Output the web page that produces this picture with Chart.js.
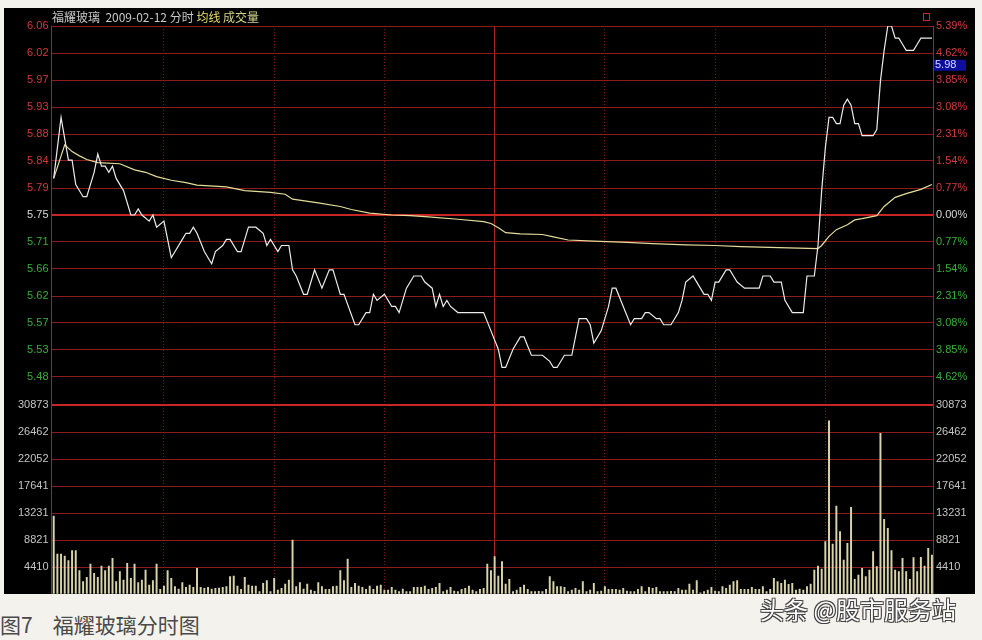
<!DOCTYPE html>
<html>
<head>
<meta charset="utf-8">
<title>福耀玻璃分时图</title>
<script src="https://cdn.jsdelivr.net/npm/chart.js@4.4.0/dist/chart.umd.min.js"></script>
<style>
  body { margin:0; width:982px; height:640px; background:#f4f2ec; position:relative; overflow:hidden;
         font-family:"Noto Sans CJK SC", "Noto Sans", sans-serif; }
  #board { position:absolute; left:4px; top:8px; width:971px; height:586px; background:#000; }
  #board canvas { position:absolute; left:0; }
  #priceChart { top:0; }
  #volChart { top:384px; }
  .title { position:absolute; left:48px; top:2px; font-size:12px; line-height:14px; color:#c8c8c8; white-space:pre; }
  .title .avg { color:#e6dc64; }
  .title .vol { color:#d2d28c; }
  .box { position:absolute; left:919px; top:5px; width:5px; height:6px; border:1px solid #c82828; }
  .caption { position:absolute; left:0; top:611px; font-size:21px; line-height:26px; color:#4a4a4a; white-space:pre; }
  .caption span { margin-left:20px; }
  .mark { position:absolute; left:760px; top:594px; font-size:24px; line-height:30px; color:#fff; white-space:pre;
          text-shadow:1px 1px 0 #444, -1px -1px 0 #444, 1px -1px 0 #444, -1px 1px 0 #444; }
</style>
</head>
<body>
<div id="board">
  <canvas id="priceChart" width="971" height="400"></canvas>
  <canvas id="volChart" width="971" height="202"></canvas>
  <div class="title">福耀玻璃  2009-02-12 分时 <span class="avg">均线</span> <span class="vol">成交量</span></div>
  <div class="box"></div>
</div>
<div class="caption">图7<span>福耀玻璃分时图</span></div>
<div class="mark">头条 @股市服务站</div>

<script>
"use strict"

// previous close and the 0.77% grid step
const preClose = 5.75;
const pctStep = 0.0077;
const markerPrice = 5.98;

const priceLabels = ['6.06','6.02','5.97','5.93','5.88','5.84','5.79','5.75','5.71','5.66','5.62','5.57','5.53','5.48'];
const pctLabels = ['5.39%','4.62%','3.85%','3.08%','2.31%','1.54%','0.77%','0.00%','0.77%','1.54%','2.31%','3.08%','3.85%','4.62%'];
const volLabels = ['30873','26462','22052','17641','13231','8821','4410'];
const volMax = 30873;
const gridMinutes = [30, 60, 90, 120, 150, 180, 210];

// price line, minute index from 9:30
const priceMinutes = [0,2,4,5,6,8,9,11,12,13,14,15,16,17,19,21,22,23,24,26,27,28,30,32,35,36,37,38,39,41,42,43,44,46,47,48,50,51,52,53,55,57,58,59,61,62,64,65,66,68,69,71,73,75,76,77,78,79,82,83,85,86,87,88,90,92,93,94,95,96,98,100,101,103,104,105,106,107,108,110,117,119,121,122,123,125,127,128,130,133,135,136,137,139,141,142,143,145,146,147,149,151,152,153,155,157,158,160,161,162,164,165,166,168,170,171,172,174,175,177,178,179,180,181,183,184,185,186,188,192,193,195,196,198,199,201,204,205,207,208,209,210,211,212,213,214,215,216,217,218,219,220,223,224,225,226,227,228,229,230,231,232,234,235,236,239];
const prices = [5.81,5.91,5.84,5.84,5.80,5.78,5.78,5.82,5.85,5.83,5.83,5.82,5.83,5.81,5.79,5.75,5.75,5.76,5.75,5.74,5.75,5.73,5.74,5.68,5.71,5.72,5.72,5.73,5.72,5.69,5.68,5.67,5.69,5.70,5.71,5.71,5.69,5.69,5.71,5.73,5.73,5.72,5.70,5.71,5.69,5.70,5.70,5.66,5.65,5.62,5.62,5.66,5.63,5.66,5.66,5.64,5.62,5.62,5.57,5.57,5.59,5.59,5.62,5.61,5.62,5.60,5.60,5.59,5.61,5.63,5.65,5.65,5.64,5.63,5.60,5.62,5.60,5.61,5.60,5.59,5.59,5.56,5.53,5.50,5.50,5.53,5.55,5.55,5.52,5.52,5.51,5.50,5.50,5.52,5.52,5.55,5.58,5.58,5.57,5.54,5.56,5.60,5.63,5.63,5.60,5.57,5.58,5.58,5.59,5.59,5.58,5.58,5.57,5.57,5.59,5.61,5.64,5.65,5.64,5.62,5.62,5.61,5.64,5.64,5.66,5.66,5.65,5.64,5.63,5.63,5.65,5.65,5.64,5.64,5.61,5.59,5.59,5.65,5.65,5.70,5.79,5.86,5.91,5.91,5.90,5.90,5.93,5.94,5.93,5.90,5.90,5.88,5.88,5.89,5.97,6.02,6.06,6.06,6.04,6.04,6.03,6.02,6.02,6.03,6.04,6.04];

// average price line
const avgMinutes = [0,3,5,7,9,12,18,22,25,28,32,36,39,47,52,59,63,65,72,78,81,86,92,97,102,110,117,119,121,123,127,133,136,140,147,156,163,172,180,187,200,208,209,211,213,216,218,220,224,226,229,232,236,239];
const avgPrices = [5.810,5.865,5.854,5.847,5.841,5.836,5.834,5.824,5.820,5.813,5.807,5.803,5.799,5.796,5.790,5.787,5.784,5.776,5.770,5.764,5.759,5.753,5.750,5.749,5.747,5.743,5.739,5.736,5.729,5.721,5.719,5.718,5.714,5.709,5.707,5.705,5.703,5.701,5.700,5.698,5.696,5.695,5.700,5.715,5.726,5.734,5.742,5.744,5.749,5.764,5.779,5.785,5.792,5.800];

// volume per minute (240 bars)
const volumes = [
  12740,6530,6530,6210,5440,7080,7080,3810,2010,2720,
  4900,3370,2720,4570,3810,4570,5820,2010,3650,2290,
  5010,2560,4900,1850,2290,3920,1470,2180,4900,760,
  1310,3810,2560,1200,820,1850,1090,1470,1090,4190,
  1090,930,1090,820,930,980,1090,1200,2830,2940,
  1310,760,2720,1470,1310,1310,380,1740,2180,380,
  2560,650,930,1630,2290,8820,1200,1850,820,1630,
  650,440,1850,1200,760,
  760,1200,1310,3810,2180,5720,1090,1740,1310,1090,
  760,1310,760,1310,1470,650,650,1090,650,380,
  820,380,380,1090,1090,1090,1310,760,930,1090,
  1740,380,650,1090,490,380,760,930,1310,650,
  380,760,930,4900,3810,6100,2940,5280,1630,2400,
  380,650,1090,1470,760,380,380,440,380,760,
  2830,2010,1200,1200,1090,380,650,930,650,2010,
  380,650,1740,380,490,1200,760,760,760,650,
  930,490,380,380,760,1200,380,1090,930,
  1090,380,380,380,440,380,930,650,650,1630,
  650,2180,200,380,650,1090,490,380,1200,930,
  1470,2010,2180,760,760,760,1090,760,760,1200,
  380,760,2560,2010,1740,2290,1580,1740,650,820,
  650,1200,1630,3920,4570,4080,8550,28300,8170,14370,
  10180,5550,8270,14150,2400,3100,4190,2830,3920,6910,
  4460,26240,12190,10720,7080,3920,3650,5820,3650,2400,
  5930,3650,5990,4570,7460,6370
];

const gridRed = '#8e1c1c';
const gridBright = '#c82626';
const axisRed = '#a82222';
const tickFont = { family: '"Liberation Sans", Arial, sans-serif', size: 11 };

function stepOf(v) {
  return Math.round((v / preClose - 1) / pctStep);
}

function priceTicks(scale) {
  let t = [];
  for (let k = -7; k <= 7; k++) t.push({ value: preClose * (1 + k * pctStep) });
  scale.ticks = t;
}

function volTicks(scale) {
  let t = [];
  for (let j = 0; j <= 7; j++) t.push({ value: volMax * j / 7 });
  scale.ticks = t;
}

// fixed axis width, no extra room for half labels
function fixWidth(w) {
  return s => {
    s.width = w;
    s.paddingTop = 0;
    s.paddingBottom = 0;
  };
}

function priceColor(ctx) {
  let k = stepOf(ctx.tick.value);
  if (k > 0) return '#d23a3a';
  if (k < 0) return '#38b038';
  return '#d8d8d8';
}

function volLabel(value) {
  let j = Math.round(value / volMax * 7);
  return j > 0 ? volLabels[7 - j] : '';
}

// shared time axis
function timeAxis() {
  return {
    type: 'linear', min: -0.6, max: 239.3, offset: false,
    afterBuildTicks: s => { s.ticks = gridMinutes.map(v => ({ value: v })); },
    afterFit: s => { s.height = 0; s.paddingLeft = 0; s.paddingRight = 0; },
    ticks: { display: false },
    grid: {
      offset: false, drawTicks: false,
      color: ctx => ctx.tick && ctx.tick.value === 120 ? '#a82424' : '#7a1a1a'
    },
    border: { display: false, dash: ctx => ctx.tick && ctx.tick.value !== 120 ? [1, 2] : [] }
  };
}

// blue price box next to the right axis
const markerPlugin = {
  id: 'marker',
  afterDraw(chart) {
    let ctx = chart.ctx;
    let y = chart.scales.y.getPixelForValue(markerPrice);
    let x = chart.chartArea.right;
    ctx.save();
    ctx.fillStyle = '#0e0e9e';
    ctx.fillRect(x + 1, y - 15, 32, 11);
    ctx.fillStyle = '#d0d8ff';
    ctx.font = '11px "Liberation Sans", Arial';
    ctx.textBaseline = 'middle';
    ctx.fillText(markerPrice.toFixed(2), x + 2, y - 9.5);
    ctx.restore();
  }
};

let priceCtx = document.getElementById('priceChart').getContext('2d');
let priceChart = new Chart(priceCtx, {
  type: 'line',
  data: {
    datasets: [{
      data: priceMinutes.map((m, i) => ({ x: m, y: prices[i] })),
      borderColor: '#ececec', borderWidth: 1.2, pointRadius: 0, tension: 0
    }, {
      data: avgMinutes.map((m, i) => ({ x: m, y: avgPrices[i] })),
      borderColor: '#e4dc9a', borderWidth: 1.2, pointRadius: 0, tension: 0
    }]
  },
  options: {
    responsive: false, animation: false, events: [],
    layout: { padding: { top: 18, bottom: 4, left: 0, right: 0 } },
    plugins: { legend: { display: false }, tooltip: { enabled: false } },
    scales: {
      x: timeAxis(),
      y: {
        position: 'left',
        min: preClose * (1 - 7 * pctStep), max: preClose * (1 + 7 * pctStep),
        afterBuildTicks: priceTicks,
        afterFit: fixWidth(47.5),
        ticks: {
          autoSkip: false, padding: 3, font: tickFont, color: priceColor,
          callback: v => priceLabels[7 - stepOf(v)] || ''
        },
        grid: {
          drawTicks: false,
          color: ctx => stepOf(ctx.tick.value) === 0 ? gridBright : gridRed,
          lineWidth: ctx => stepOf(ctx.tick.value) === 0 ? 2 : 1
        },
        border: { color: axisRed }
      },
      y1: {
        position: 'right',
        min: preClose * (1 - 7 * pctStep), max: preClose * (1 + 7 * pctStep),
        afterBuildTicks: priceTicks,
        afterFit: fixWidth(42),
        ticks: {
          autoSkip: false, padding: 3, font: tickFont, color: priceColor,
          callback: v => pctLabels[7 - stepOf(v)] || ''
        },
        grid: { drawOnChartArea: false, drawTicks: false },
        border: { color: axisRed }
      }
    }
  },
  plugins: [markerPlugin]
});

let volCtx = document.getElementById('volChart').getContext('2d');
let volChart = new Chart(volCtx, {
  type: 'bar',
  data: {
    datasets: [{
      data: volumes.map((v, i) => ({ x: i, y: v })),
      backgroundColor: '#d8d4aa', barThickness: 1.3
    }]
  },
  options: {
    responsive: false, animation: false, events: [],
    layout: { padding: { top: 13, bottom: 0, left: 0, right: 0 } },
    plugins: { legend: { display: false }, tooltip: { enabled: false } },
    scales: {
      x: timeAxis(),
      y: {
        position: 'left', min: 0, max: volMax,
        afterBuildTicks: volTicks,
        afterFit: fixWidth(47.5),
        ticks: { autoSkip: false, padding: 3, font: tickFont, color: '#c4c4c4', callback: volLabel },
        grid: {
          drawTicks: false,
          color: ctx => ctx.tick.value === volMax ? gridBright : gridRed,
          lineWidth: ctx => ctx.tick.value === volMax ? 2 : 1
        },
        border: { color: axisRed }
      },
      y1: {
        position: 'right', min: 0, max: volMax,
        afterBuildTicks: volTicks,
        afterFit: fixWidth(42),
        ticks: { autoSkip: false, padding: 3, font: tickFont, color: '#c4c4c4', callback: volLabel },
        grid: { drawOnChartArea: false, drawTicks: false },
        border: { color: axisRed }
      }
    }
  }
});
</script>
</body>
</html>
